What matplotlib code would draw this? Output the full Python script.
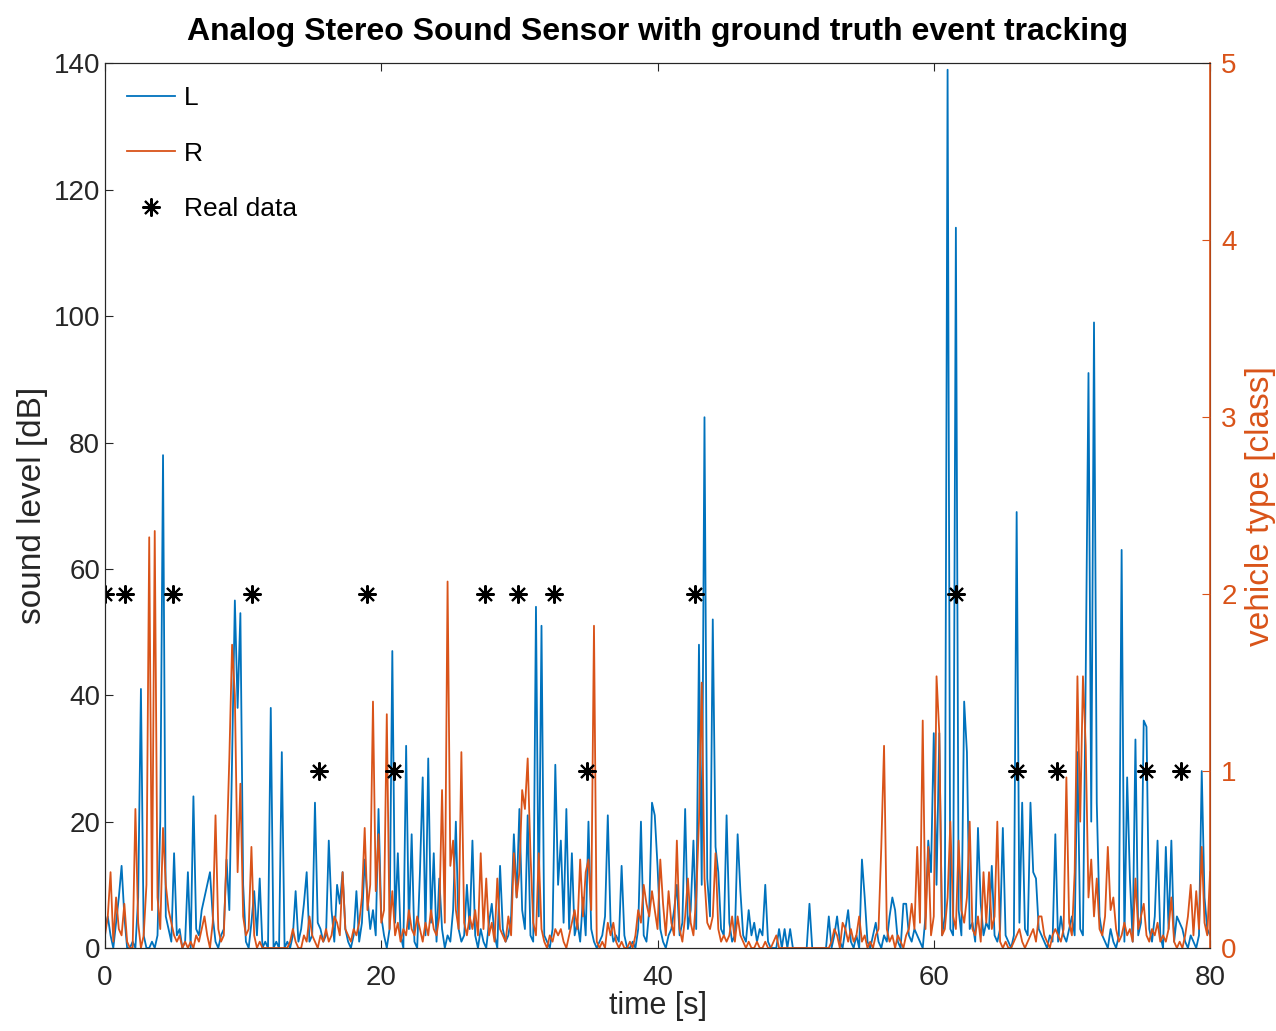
import numpy as np
import matplotlib.pyplot as plt

plt.rcParams['font.family'] = ['Liberation Sans', 'DejaVu Sans']

# sound level samples, one every 0.2 s (rows of 5 s)
dt = 0.2
left_db = [
    3, 5, 2, 0, 4, 8, 13, 5, 0, 0, 1, 0, 8, 41, 2, 0, 0, 1, 0, 2, 20, 78, 5, 3, 1,
    15, 2, 3, 0, 1, 12, 0, 24, 3, 2, 6, 8, 10, 12, 5, 1, 0, 2, 3, 14, 6, 30, 55, 38, 53,
    10, 1, 0, 4, 9, 2, 11, 0, 1, 0, 38, 0, 1, 0, 31, 0, 1, 0, 2, 9, 1, 3, 7, 12, 1,
    2, 23, 4, 3, 1, 2, 17, 6, 1, 10, 7, 12, 3, 1, 0, 2, 9, 1, 4, 14, 8, 3, 6, 2, 22,
    5, 2, 0, 3, 47, 4, 15, 2, 0, 32, 3, 18, 1, 0, 12, 27, 2, 30, 4, 15, 1, 11, 3, 0, 2,
    1, 6, 20, 3, 1, 2, 10, 3, 17, 2, 0, 3, 1, 0, 4, 7, 2, 0, 13, 3, 1, 2, 5, 18, 8,
    22, 6, 3, 21, 2, 1, 54, 5, 51, 2, 1, 0, 3, 29, 10, 17, 4, 22, 3, 15, 2, 4, 1, 8, 2,
    20, 3, 1, 0, 1, 2, 5, 21, 4, 1, 2, 1, 13, 2, 0, 0, 1, 0, 3, 20, 2, 1, 6, 23, 21,
    13, 3, 1, 0, 2, 3, 6, 10, 2, 4, 22, 3, 6, 17, 3, 48, 10, 84, 11, 5, 52, 16, 12, 3, 2,
    21, 4, 1, 2, 18, 9, 2, 1, 6, 2, 4, 1, 3, 2, 10, 1, 0, 0, 0, 3, 0, 3, 0, 3, 0,
    0, 0, 0, 0, 0, 7, 0, 0, 0, 0, 0, 0, 5, 0, 2, 5, 1, 0, 3, 6, 1, 0, 2, 0, 14,
    8, 1, 0, 2, 4, 1, 0, 2, 1, 5, 8, 6, 1, 0, 7, 7, 2, 1, 3, 2, 1, 0, 5, 17, 12,
    34, 10, 34, 2, 5, 139, 3, 2, 114, 6, 2, 39, 31, 3, 4, 1, 19, 7, 2, 4, 3, 13, 2, 1, 3,
    19, 2, 1, 0, 2, 69, 4, 23, 3, 2, 23, 12, 11, 3, 2, 1, 0, 2, 1, 18, 1, 5, 2, 1, 3,
    5, 2, 31, 3, 2, 43, 91, 20, 99, 23, 5, 2, 1, 0, 3, 1, 0, 2, 63, 1, 27, 11, 1, 33, 2,
    4, 36, 35, 3, 1, 5, 17, 2, 0, 16, 3, 17, 1, 5, 4, 3, 1, 0, 2, 1, 0, 2, 28, 8, 3, 2,
]
right_db = [
    2, 5, 12, 1, 8, 3, 2, 7, 1, 0, 0, 22, 4, 0, 2, 10, 65, 6, 66, 8, 3, 19, 10, 6, 4,
    2, 1, 2, 0, 1, 0, 1, 0, 2, 1, 3, 5, 2, 0, 4, 21, 3, 1, 2, 15, 30, 48, 40, 12, 26,
    5, 2, 3, 16, 2, 0, 1, 0, 0, 0, 0, 0, 0, 0, 0, 0, 0, 1, 3, 1, 0, 0, 2, 1, 5,
    2, 1, 0, 2, 1, 3, 1, 2, 5, 4, 2, 12, 3, 2, 1, 3, 2, 4, 8, 19, 6, 10, 39, 9, 18,
    4, 6, 37, 3, 9, 2, 4, 1, 3, 2, 6, 3, 2, 5, 3, 1, 4, 2, 6, 3, 2, 5, 25, 4, 58,
    13, 17, 6, 3, 31, 4, 2, 5, 3, 6, 2, 15, 3, 11, 2, 4, 1, 11, 3, 2, 1, 5, 2, 15, 8,
    12, 25, 22, 30, 15, 4, 2, 15, 3, 1, 0, 2, 1, 3, 2, 3, 1, 0, 2, 4, 6, 3, 14, 5, 12,
    14, 6, 51, 1, 0, 1, 0, 4, 2, 4, 1, 0, 1, 0, 0, 1, 0, 2, 6, 4, 10, 7, 5, 9, 6,
    3, 14, 7, 2, 9, 4, 2, 17, 3, 1, 5, 11, 4, 2, 8, 20, 42, 11, 4, 3, 5, 15, 3, 1, 2,
    1, 2, 5, 1, 5, 2, 1, 0, 1, 0, 0, 1, 0, 0, 1, 0, 0, 1, 2, 0, 0, 0, 0, 0, 0,
    0, 0, 0, 0, 0, 0, 0, 0, 0, 0, 0, 0, 0, 1, 3, 2, 0, 4, 3, 1, 3, 1, 2, 5, 1,
    2, 0, 1, 0, 2, 3, 16, 32, 3, 1, 2, 0, 2, 1, 0, 2, 3, 7, 3, 16, 4, 36, 3, 16, 2,
    5, 43, 34, 2, 3, 8, 20, 5, 3, 17, 6, 4, 8, 20, 3, 2, 5, 1, 12, 4, 12, 3, 5, 20, 1,
    0, 1, 0, 0, 1, 2, 3, 1, 0, 1, 2, 3, 1, 5, 5, 2, 1, 0, 2, 3, 2, 1, 3, 27, 4,
    2, 12, 43, 20, 43, 32, 8, 14, 5, 11, 3, 2, 5, 16, 6, 8, 3, 1, 2, 4, 2, 3, 1, 11, 3,
    5, 7, 2, 1, 3, 2, 4, 1, 2, 1, 3, 8, 1, 0, 1, 0, 2, 5, 10, 2, 9, 3, 16, 4, 2, 12,
]

# ground truth events
event_time = [0.0, 1.45, 4.9, 10.65, 15.5, 18.95, 20.9, 27.5, 29.9, 32.5,
              34.9, 42.7, 61.6, 66.0, 68.9, 75.4, 77.9]
event_class = [2, 2, 2, 2, 1, 2, 1, 2, 2, 2,
               1, 2, 2, 1, 1, 1, 1]

blue = '#0072BD'
orange = '#D95319'
dark = '#262626'

t = np.arange(len(left_db)) * dt

fig = plt.figure(figsize=(12.76, 10.31), dpi=100)
ax = fig.add_axes([0.0823, 0.0805, 0.866, 0.858])
ax2 = ax.twinx()

l1, = ax.plot(t, left_db, color=blue, lw=1.3, label='L')
l2, = ax.plot(t, right_db, color=orange, lw=1.3, label='R')
ax.set_xlim(0, 80)
ax.set_ylim(0, 140)
ax.set_xticks([0, 20, 40, 60, 80])
ax.set_yticks(np.arange(0, 141, 20))
ax.tick_params(axis='both', direction='in', length=6, labelsize=20,
               top=True, colors=dark)
ax.tick_params(axis='x', pad=12)
ax.set_xlabel('time [s]', fontsize=22, color=dark, labelpad=0)
ax.set_ylabel('sound level [dB]', fontsize=24, color=dark, labelpad=4)

s, = ax2.plot(event_time, event_class, ls='none', marker=(8, 2, 0),
              ms=13, mew=1.5, color='black', label='Real data')
ax2.set_ylim(0, 5)
ax2.set_yticks(range(6))
ax2.tick_params(axis='y', direction='in', length=6, labelsize=20,
                colors=orange, pad=8)
ax2.set_ylabel('vehicle type [class]', fontsize=24, color=orange, labelpad=6)
ax2.spines['right'].set_color(orange)
ax2.spines['right'].set_linewidth(1.2)
for sp in ['left', 'top', 'bottom']:
    ax2.spines[sp].set_color(dark)
    ax.spines[sp].set_color(dark)

ax2.legend(handles=[l1, l2, s], loc='upper left', frameon=False,
           fontsize=19, handlelength=1.8, labelspacing=1.2,
           borderaxespad=0.55, handletextpad=0.35, borderpad=0.3)

ax.set_title('Analog Stereo Sound Sensor with ground truth event tracking',
             fontsize=23, fontweight='bold', pad=17)

fig.savefig('out.png', dpi=100)
